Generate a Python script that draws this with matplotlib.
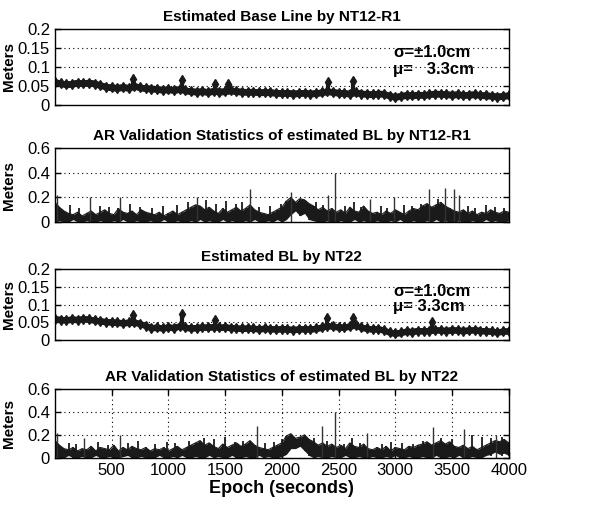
import numpy as np
import matplotlib
matplotlib.use('Agg')
import matplotlib.pyplot as plt

plt.rcParams.update({'font.family': ['Liberation Sans Narrow', 'Liberation Sans', 'DejaVu Sans'],
                     'font.size': 10})

# epoch grid of the read-off samples
t50 = np.arange(0, 4001, 50)
t40 = np.arange(0, 4001, 40)

# estimated base line, NT12-R1 (m), every 50 s
bl1 = [0.060, 0.057, 0.054, 0.056, 0.058, 0.057, 0.059, 0.056, 0.052, 0.048,
       0.046, 0.045, 0.047, 0.045, 0.050, 0.046, 0.044, 0.043, 0.042, 0.040,
       0.041, 0.039, 0.042, 0.038, 0.036, 0.035, 0.036, 0.034, 0.037, 0.035,
       0.036, 0.038, 0.036, 0.035, 0.034, 0.035, 0.033, 0.034, 0.033, 0.032,
       0.031, 0.032, 0.030, 0.031, 0.032, 0.030, 0.031, 0.033, 0.036, 0.034,
       0.032, 0.031, 0.030, 0.033, 0.030, 0.029, 0.028, 0.030, 0.029, 0.024,
       0.021, 0.024, 0.026, 0.025, 0.027, 0.026, 0.028, 0.030, 0.029, 0.028,
       0.027, 0.028, 0.026, 0.027, 0.028, 0.026, 0.025, 0.024, 0.022, 0.024, 0.025]
bl1_bump_t = [690, 1120, 1410, 1530, 2410, 2630]
bl1_bump_v = [0.068, 0.066, 0.055, 0.055, 0.060, 0.062]

# estimated base line, NT22 (m), every 50 s
bl2 = [0.060, 0.058, 0.057, 0.059, 0.058, 0.060, 0.059, 0.056, 0.054, 0.052,
       0.051, 0.050, 0.049, 0.050, 0.050, 0.047, 0.040, 0.035, 0.036, 0.034,
       0.037, 0.035, 0.040, 0.036, 0.034, 0.035, 0.037, 0.036, 0.038, 0.036,
       0.037, 0.035, 0.034, 0.033, 0.034, 0.033, 0.032, 0.033, 0.032, 0.031,
       0.032, 0.031, 0.030, 0.031, 0.032, 0.031, 0.033, 0.036, 0.041, 0.039,
       0.037, 0.036, 0.040, 0.042, 0.036, 0.033, 0.031, 0.032, 0.028, 0.022,
       0.019, 0.022, 0.025, 0.024, 0.027, 0.026, 0.027, 0.029, 0.028, 0.027,
       0.029, 0.028, 0.027, 0.028, 0.029, 0.027, 0.026, 0.025, 0.023, 0.025, 0.026]
bl2_bump_t = [690, 1120, 1410, 2400, 2630, 3320]
bl2_bump_v = [0.072, 0.075, 0.058, 0.062, 0.062, 0.050]

# AR validation statistics, upper / lower envelope every 40 s
ar1_hi = [0.16, 0.12, 0.09, 0.07, 0.06, 0.08, 0.05, 0.07, 0.09, 0.06, 0.08,
          0.10, 0.07, 0.06, 0.11, 0.08, 0.07, 0.09, 0.06, 0.10, 0.08,
          0.07, 0.06, 0.08, 0.05, 0.07, 0.09, 0.06, 0.08, 0.10, 0.12,
          0.14, 0.13, 0.10, 0.12, 0.09, 0.07, 0.11, 0.08, 0.10, 0.12,
          0.09, 0.11, 0.14, 0.10, 0.08, 0.07, 0.06, 0.08, 0.10, 0.12,
          0.17, 0.20, 0.16, 0.19, 0.18, 0.15, 0.13, 0.10, 0.12, 0.09,
          0.11, 0.08, 0.10, 0.07, 0.12, 0.09, 0.08, 0.13, 0.09, 0.07,
          0.08, 0.06, 0.09, 0.07, 0.10, 0.08, 0.06, 0.09, 0.11, 0.10,
          0.13, 0.15, 0.12, 0.14, 0.16, 0.13, 0.11, 0.09, 0.08, 0.10,
          0.07, 0.09, 0.06, 0.08, 0.07, 0.10, 0.08, 0.07, 0.09, 0.08]
ar1_lo = [0.00, 0.01, 0.00, 0.00, 0.02, 0.00, 0.00, 0.01, 0.00, 0.00, 0.01,
          0.00, 0.00, 0.01, 0.00, 0.02, 0.00, 0.00, 0.01, 0.00, 0.00,
          0.01, 0.00, 0.00, 0.02, 0.00, 0.00, 0.01, 0.00, 0.00, 0.01,
          0.00, 0.02, 0.00, 0.01, 0.00, 0.00, 0.02, 0.00, 0.01, 0.00,
          0.00, 0.01, 0.00, 0.02, 0.00, 0.00, 0.01, 0.00, 0.02, 0.00,
          0.02, 0.06, 0.09, 0.05, 0.07, 0.02, 0.01, 0.00, 0.00, 0.01,
          0.00, 0.00, 0.01, 0.00, 0.00, 0.02, 0.00, 0.01, 0.00, 0.00,
          0.01, 0.00, 0.00, 0.01, 0.00, 0.02, 0.00, 0.00, 0.01, 0.00,
          0.00, 0.01, 0.00, 0.02, 0.00, 0.01, 0.00, 0.00, 0.01, 0.00,
          0.00, 0.01, 0.00, 0.00, 0.02, 0.00, 0.01, 0.00, 0.00, 0.01]
ar1_spike_t = [20, 310, 570, 1250, 1720, 2080, 2410, 2470, 2780, 2990, 3300, 3440, 3520, 3560]
ar1_spike_v = [0.22, 0.20, 0.20, 0.20, 0.27, 0.24, 0.22, 0.40, 0.19, 0.20, 0.27, 0.28, 0.27, 0.22]
ar1_mid_t = [130, 210, 400, 480, 660, 750, 860, 950, 1080, 1170, 1330, 1420, 1510, 1600, 1650,
             1800, 1900, 1990, 2300, 2360, 2560, 2640, 2700, 2870, 2930, 3080, 3150, 3230,
             3380, 3640, 3700, 3800, 3880, 3960]
ar1_mid_v = [0.14, 0.11, 0.13, 0.12, 0.15, 0.12, 0.11, 0.13, 0.14, 0.16, 0.18, 0.15, 0.17, 0.15, 0.16,
             0.12, 0.13, 0.15, 0.16, 0.14, 0.13, 0.16, 0.12, 0.13, 0.11, 0.14, 0.13, 0.15,
             0.19, 0.13, 0.11, 0.14, 0.12, 0.11]

ar2_hi = [0.15, 0.11, 0.08, 0.07, 0.09, 0.06, 0.08, 0.07, 0.10, 0.06, 0.09,
          0.08, 0.07, 0.11, 0.06, 0.09, 0.07, 0.10, 0.08, 0.07, 0.09,
          0.06, 0.08, 0.07, 0.09, 0.06, 0.08, 0.10, 0.07, 0.09, 0.11,
          0.13, 0.15, 0.11, 0.13, 0.10, 0.08, 0.12, 0.09, 0.11, 0.13,
          0.10, 0.12, 0.15, 0.11, 0.09, 0.08, 0.07, 0.09, 0.11, 0.13,
          0.19, 0.21, 0.17, 0.18, 0.20, 0.16, 0.14, 0.11, 0.13, 0.10,
          0.12, 0.09, 0.11, 0.08, 0.13, 0.10, 0.09, 0.12, 0.08, 0.07,
          0.09, 0.07, 0.10, 0.06, 0.09, 0.08, 0.07, 0.10, 0.09, 0.11,
          0.12, 0.14, 0.11, 0.13, 0.15, 0.12, 0.14, 0.10, 0.09, 0.11,
          0.08, 0.10, 0.07, 0.09, 0.11, 0.13, 0.15, 0.14, 0.16, 0.13]
ar2_lo = [0.01, 0.00, 0.00, 0.02, 0.00, 0.00, 0.01, 0.00, 0.00, 0.02, 0.00,
          0.00, 0.01, 0.00, 0.00, 0.01, 0.02, 0.00, 0.00, 0.01, 0.00,
          0.00, 0.00, 0.02, 0.00, 0.00, 0.01, 0.00, 0.02, 0.00, 0.00,
          0.01, 0.00, 0.00, 0.02, 0.00, 0.01, 0.00, 0.00, 0.02, 0.00,
          0.00, 0.01, 0.00, 0.00, 0.02, 0.00, 0.01, 0.00, 0.00, 0.01,
          0.03, 0.08, 0.08, 0.10, 0.06, 0.02, 0.00, 0.01, 0.00, 0.00,
          0.01, 0.00, 0.00, 0.02, 0.00, 0.00, 0.01, 0.00, 0.00, 0.01,
          0.00, 0.00, 0.01, 0.00, 0.02, 0.00, 0.00, 0.01, 0.00, 0.00,
          0.01, 0.00, 0.00, 0.02, 0.00, 0.00, 0.01, 0.00, 0.02, 0.00,
          0.00, 0.01, 0.00, 0.00, 0.02, 0.03, 0.05, 0.03, 0.04, 0.02]
ar2_spike_t = [20, 260, 570, 1780, 2350, 2470, 2750, 3330, 3610, 3890]
ar2_spike_v = [0.22, 0.17, 0.20, 0.28, 0.28, 0.40, 0.22, 0.27, 0.25, 0.20]
ar2_mid_t = [120, 190, 380, 470, 640, 730, 880, 990, 1060, 1180, 1310, 1400, 1500, 1590, 1660,
             1850, 1930, 2000, 2280, 2400, 2550, 2620, 2690, 2880, 2960, 3060, 3160, 3240,
             3400, 3500, 3680, 3760, 3840, 3940]
ar2_mid_v = [0.13, 0.12, 0.14, 0.11, 0.13, 0.15, 0.12, 0.14, 0.13, 0.15, 0.17, 0.16, 0.18, 0.14, 0.15,
             0.13, 0.14, 0.16, 0.17, 0.15, 0.12, 0.17, 0.13, 0.12, 0.14, 0.13, 0.12, 0.15,
             0.17, 0.16, 0.20, 0.18, 0.17, 0.18]

INK = '#1a1a1a'


def base_line_panel(ax, t, bl, bump_t, bump_v, title, mu_text):
    bl = np.asarray(bl)
    ax.fill_between(t, bl - 0.009, bl + 0.009, color=INK, lw=0)
    ax.plot(t, bl, color=INK, lw=4, marker='d', ms=5)
    centre = np.interp(bump_t, t, bl)
    ax.vlines(bump_t, centre, bump_v, color=INK, lw=3)
    ax.plot(bump_t, bump_v, 'd', color=INK, ms=5)
    ax.set_ylim(0, 0.2)
    ax.set_yticks([0, 0.05, 0.1, 0.15, 0.2])
    ax.set_yticklabels(['0', '0.05', '0.1', '0.15', '0.2'])
    ax.text(2980, 0.138, u'\u03c3=\u00b11.0cm', fontsize=12, fontweight='bold', va='center')
    ax.text(2980, 0.094, mu_text, fontsize=12, fontweight='bold', va='center')
    ax.set_title(title, fontsize=11, fontweight='bold', pad=6)


def ar_panel(ax, t, hi, lo, spike_t, spike_v, mid_t, mid_v, title):
    ax.fill_between(t, lo, hi, color=INK, lw=0)
    ax.vlines(t, lo, hi, color=INK, lw=1.2)
    ax.plot(t, hi, color=INK, lw=0.8)
    ax.vlines(mid_t, 0.02, mid_v, color=INK, lw=1.3)
    ax.vlines(spike_t, 0, spike_v, color='#333333', lw=1)
    ax.set_ylim(0, 0.6)
    ax.set_yticks([0, 0.2, 0.4, 0.6])
    ax.set_yticklabels(['0', '0.2', '0.4', '0.6'])
    ax.set_title(title, fontsize=11, fontweight='bold', pad=6)


fig = plt.figure(figsize=(6.1, 5.07), dpi=100)
left, width = 0.090, 0.744
ax1 = fig.add_axes([left, 0.793, width, 0.150])
ax2 = fig.add_axes([left, 0.562, width, 0.146])
ax3 = fig.add_axes([left, 0.329, width, 0.140])
ax4 = fig.add_axes([left, 0.097, width, 0.136])

base_line_panel(ax1, t50, bl1, bl1_bump_t, bl1_bump_v, 'Estimated Base Line by NT12-R1', u'\u03bc=   3.3cm')
ar_panel(ax2, t40, ar1_hi, ar1_lo, ar1_spike_t, ar1_spike_v, ar1_mid_t, ar1_mid_v,
         'AR Validation Statistics of estimated BL by NT12-R1')
base_line_panel(ax3, t50, bl2, bl2_bump_t, bl2_bump_v, 'Estimated BL by NT22', u'\u03bc= 3.3cm')
ar_panel(ax4, t40, ar2_hi, ar2_lo, ar2_spike_t, ar2_spike_v, ar2_mid_t, ar2_mid_v,
         'AR Validation Statistics of estimated BL by NT22')

for ax in (ax1, ax2, ax3, ax4):
    ax.set_xlim(0, 4000)
    ax.grid(axis='y', linestyle=(0, (1, 3)), color='black', lw=0.8)
    ax.tick_params(direction='in', right=True, top=True, labelsize=12, length=4, width=1)
    ax.set_ylabel('Meters', fontsize=11, fontweight='bold')
    ax.yaxis.set_label_coords(-0.085, 0.5)
    for s in ax.spines.values():
        s.set_linewidth(1)
    ax.set_axisbelow(True)

for ax in (ax1, ax2, ax3):
    ax.set_xticks([])

ax4.set_xticks([500, 1000, 1500, 2000, 2500, 3000, 3500, 4000])
ax4.grid(axis='x', linestyle=(0, (1, 3)), color='black', lw=0.8)
ax4.set_xlabel('Epoch (seconds)', fontsize=13, fontweight='bold', labelpad=2)

fig.savefig('out.png', dpi=100)
